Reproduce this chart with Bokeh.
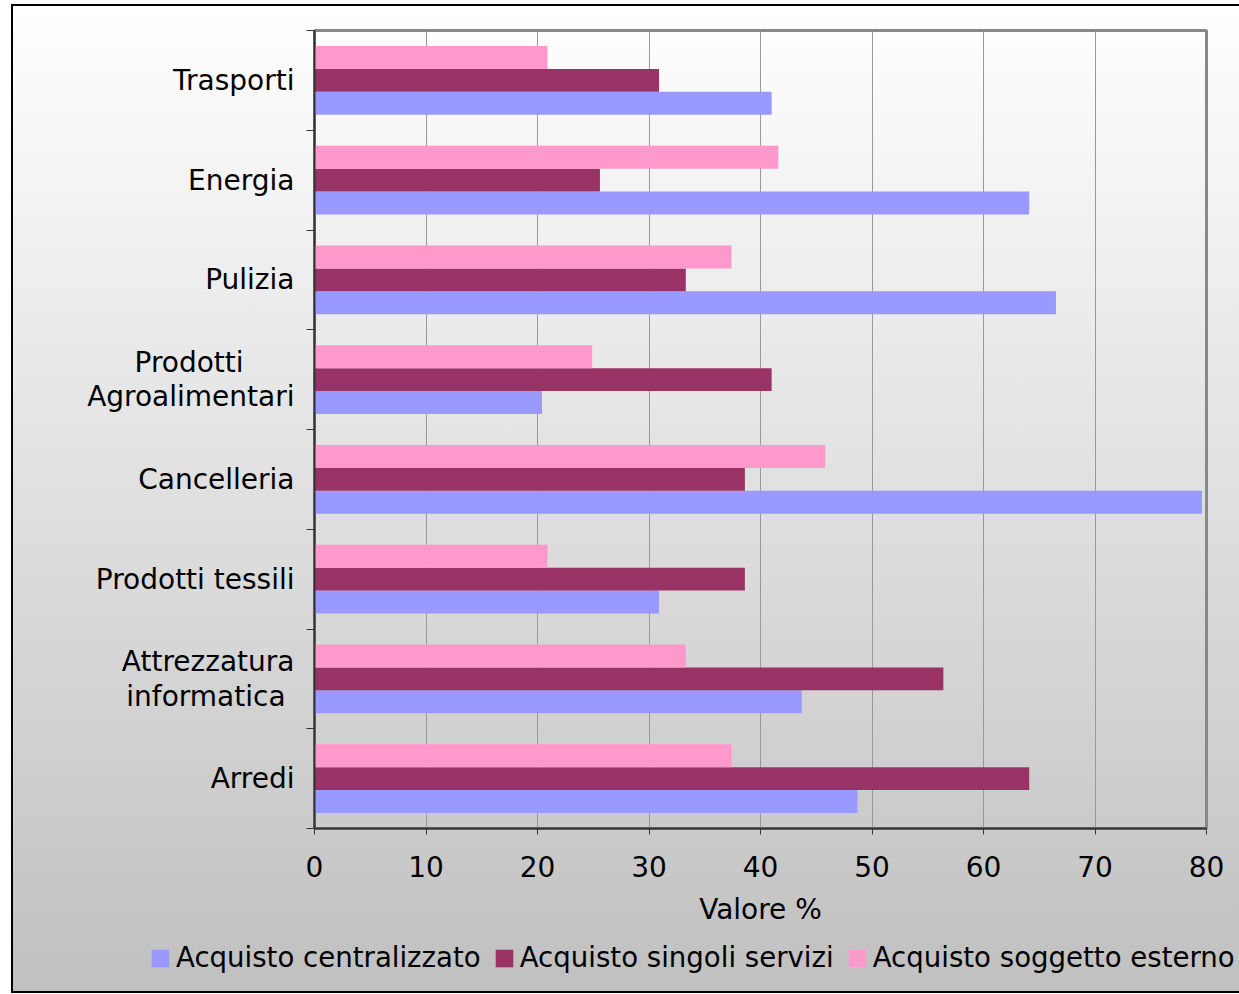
from bokeh.plotting import figure
from bokeh.layouts import column
from bokeh.models import Range1d, FixedTicker, Legend, LegendItem
from bokeh.embed import file_html
from bokeh.resources import INLINE

categories = ["Arredi", "Attrezzatura\ninformatica\u00a0", "Prodotti tessili", "Cancelleria",
              "Prodotti\u2002\u2002\u2002\u00a0\nAgroalimentari", "Pulizia", "Energia", "Trasporti"]
centralizzato = [48.7, 43.7, 30.9, 79.6, 20.4, 66.5, 64.1, 41.0]
singoli = [64.1, 56.4, 38.6, 38.6, 41.0, 33.3, 25.6, 30.9]
esterno = [37.4, 33.3, 20.9, 45.8, 24.9, 37.4, 41.6, 20.9]
series_names = ["Acquisto centralizzato", "Acquisto singoli servizi", "Acquisto soggetto esterno"]
colors = ["#9999FF", "#993366", "#FF99CC"]
x_ticks = [0, 10, 20, 30, 40, 50, 60, 70, 80]

FONT = "DejaVu Sans"
FS = "28px"

p = figure(width=1239, height=935, output_backend="svg", toolbar_location=None,
           x_range=Range1d(0, 80), y_range=Range1d(0, len(categories)),
           min_border_left=314, min_border_right=33, min_border_top=30, min_border_bottom=107)
p.border_fill_alpha = 0
p.background_fill_alpha = 0
p.outline_line_color = "#888888"
p.outline_line_width = 3

centers = [i + 0.5 for i in range(len(categories))]
bar_h = 0.23
offsets = [-0.23, 0.0, 0.23]
series = [centralizzato, singoli, esterno]
for vals, off, col in zip(series, offsets, colors):
    p.hbar(y=[c + off for c in centers], right=vals, left=0, height=bar_h,
           fill_color=col, line_color=None)

# x axis
xa = p.xaxis[0]
xa.ticker = FixedTicker(ticks=x_ticks)
xa.axis_label = "Valore %"
xa.axis_label_text_font = FONT
xa.axis_label_text_font_size = FS
xa.axis_label_text_font_style = "normal"
xa.axis_label_text_color = "#000000"
xa.axis_label_standoff = 13
xa.major_label_text_font = FONT
xa.major_label_text_font_size = FS
xa.major_label_text_color = "#000000"
xa.major_label_standoff = 21
xa.major_tick_in = 0
xa.major_tick_out = 6
xa.minor_tick_line_color = None
xa.axis_line_color = "#333333"
xa.axis_line_width = 2
xa.major_tick_line_color = "#333333"
xa.major_tick_line_width = 1

# y axis
ya = p.yaxis[0]
ya.ticker = FixedTicker(ticks=centers, minor_ticks=list(range(len(categories) + 1)))
ya.major_label_overrides = {c: lab for c, lab in zip(centers, categories)}
ya.major_label_text_font = FONT
ya.major_label_text_font_size = FS
ya.major_label_text_color = "#000000"
ya.major_label_text_line_height = 1.04
ya.major_label_standoff = 12
ya.major_tick_line_color = None
ya.major_tick_in = 0
ya.major_tick_out = 0
ya.minor_tick_in = 0
ya.minor_tick_out = 8
ya.minor_tick_line_color = "#333333"
ya.minor_tick_line_width = 1
ya.axis_line_color = "#333333"
ya.axis_line_width = 2

p.ygrid.grid_line_color = None
p.xgrid.grid_line_color = "#999999"
p.xgrid.grid_line_width = 1
p.xgrid.ticker = FixedTicker(ticks=x_ticks)

# legend strip (its bars are out of its visible range; only the legend shows)
lp = figure(width=1239, height=59, output_backend="svg", toolbar_location=None,
            x_range=Range1d(0, 80), y_range=Range1d(100, 101),
            min_border_left=0, min_border_right=0, min_border_top=0, min_border_bottom=0)
lp.axis.visible = False
lp.grid.visible = False
lp.outline_line_color = None
lp.border_fill_alpha = 0
lp.background_fill_alpha = 0
legend_renderers = [lp.hbar(y=centers, right=vals, left=0, height=bar_h, fill_color=c, line_color=None)
                    for vals, c in zip(series, colors)]
legend = Legend(items=[LegendItem(label=n, renderers=[r]) for n, r in zip(series_names, legend_renderers)],
                orientation="horizontal", location=(149, 20))
legend.label_text_font = FONT
legend.label_text_font_size = "27.6px"
legend.label_text_color = "#000000"
legend.glyph_width = 22
legend.glyph_height = 22
legend.label_standoff = 5
legend.spacing = 12
legend.padding = 0
legend.margin = 0
legend.background_fill_alpha = 0
legend.border_line_color = None
lp.add_layout(legend, "center")

layout = column(p, column(lp), spacing=0)
layout.styles = {
    "background": ("linear-gradient(#000,#000) 11px 4px / 2px 989px no-repeat, "
                   "linear-gradient(#000,#000) 11px 4px / 1228px 2px no-repeat, "
                   "linear-gradient(#000,#000) 11px 991px / 1228px 2px no-repeat, "
                   "linear-gradient(to bottom, #ffffff, #c0c0c0) 11px 4px / 1228px 989px no-repeat, "
                   "#ffffff"),
}

open("out.html", "w").write(file_html(layout, INLINE))
